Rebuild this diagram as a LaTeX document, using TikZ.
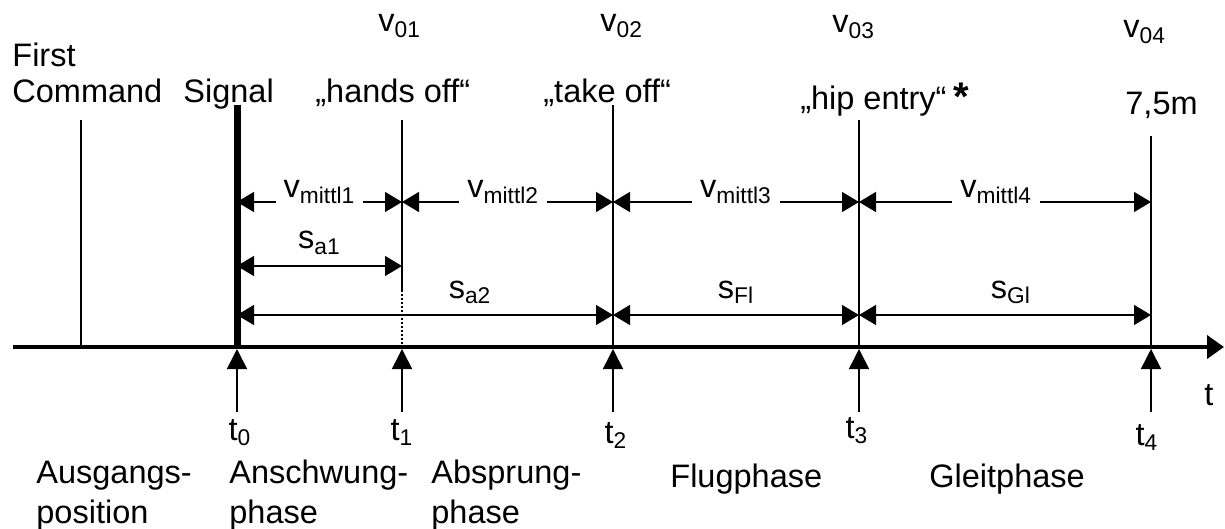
\documentclass[tikz,border=0pt]{standalone}
\usepackage{fontspec}
\setmainfont{Liberation Sans}
\usetikzlibrary{arrows.meta,positioning}

\begin{document}
\begin{tikzpicture}[
  x=0.5pt,y=-0.5pt,
  >={Triangle[length=8.5pt,width=10pt]},
  every node/.style={font=\fontsize{16.25}{20}\selectfont,inner sep=0pt},
  txt/.style={anchor=base west},
  tline/.style={line width=0.8pt},
  dimline/.style={<->,line width=0.7pt},
  gaplabel/.style={fill=white,inner xsep=4pt,inner ysep=1.5pt,anchor=base,yshift=2pt},
  slabel/.style={anchor=base,yshift=8.5pt},
  tickarrow/.style={->,line width=0.8pt,>={Triangle[length=10pt,width=10pt]}},
]
\useasboundingbox (0,0) rectangle (1225,529);

% ---- points of the time marks ----
\foreach \i/\x/\top in {0/237/105,1/402/120,2/613/105,3/859/120,4/1151/136}{
  \coordinate (top\i)  at (\x,\top);
  \coordinate (ax\i)   at (\x,347);
  \coordinate (tip\i)  at (\x,349);
  \coordinate (foot\i) at (\x,412);
  \coordinate (v\i)    at (\x,202);
  \coordinate (sa\i)   at (\x,266);
  \coordinate (sb\i)   at (\x,315);
}
\coordinate (cmdtop)  at (81,120);
\coordinate (cmdax)   at (81,347);
\coordinate (dot1)    at (402,290);
\coordinate (axstart) at (13,347);
\coordinate (axend)   at (1224,347);

% ---- vertical lines ----
\draw[tline] (cmdtop) -- (cmdax);
\draw[line width=3.5pt] (top0) -- (ax0);
\draw[tline] (top1) -- (dot1);
\draw[tline,dash pattern=on 1pt off 1pt] (dot1) -- (ax1);
\foreach \i in {2,3,4} \draw[tline] (top\i) -- (ax\i);

% ---- time axis ----
\draw[line width=2pt,-{Triangle[length=8.5pt,width=11.5pt]}] (axstart) -- (axend);
\node[txt] (t) at (1204,405) {t};
\foreach \i in {0,...,4} \draw[tickarrow] (foot\i) -- (tip\i);

% ---- mean velocities ----
\draw[dimline] (v0) -- node[gaplabel] (vm1) {v\textsubscript{mittl1}} (v1);
\draw[dimline] (v1) -- node[gaplabel,pos=0.48] (vm2) {v\textsubscript{mittl2}} (v2);
\draw[dimline] (v2) -- node[gaplabel] (vm3) {v\textsubscript{mittl3}} (v3);
\draw[dimline] (v3) -- node[gaplabel,pos=0.47] (vm4) {v\textsubscript{mittl4}} (v4);

% ---- distances ----
\draw[dimline] (sa0) -- node[slabel] (sa) {s\textsubscript{a1}} (sa1);
\draw[dimline] (sb0) -- node[slabel,pos=0.62] (sab) {s\textsubscript{a2}} (sb2);
\draw[dimline] (sb2) -- node[slabel] (sfl) {s\textsubscript{Fl}} (sb3);
\draw[dimline] (sb3) -- node[slabel,pos=0.52] (sgl) {s\textsubscript{Gl}} (sb4);

% ---- labels above ----
\node[txt] (first)    at (12,67)   {First};
\node[txt] (command)  at (12,103)  {Command};
\node[txt] (signal)   at (183,103) {Signal};
\node[txt] (handsoff) at (315,103) {„hands off“};
\node[txt] (takeoff)  at (543,103) {„take off“};
\node[anchor=base east] (hipentry) at (947,110) {„hip entry“};
\node[txt,font=\fontsize{20}{24}\selectfont\bfseries] (star) at (953,111) {*};
\node[txt] (dist)     at (1125,115) {7,5m};
\node[txt] (v01) at (378,32)  {v\textsubscript{01}};
\node[txt] (v02) at (600,32)  {v\textsubscript{02}};
\node[txt] (v03) at (832,33)  {v\textsubscript{03}};
\node[txt] (v04) at (1123,38) {v\textsubscript{04}};

% ---- labels below ----
\node[anchor=base] (t0) at (240,440)  {t\textsubscript{0}};
\node[anchor=base] (t1) at (402,440)  {t\textsubscript{1}};
\node[anchor=base] (t2) at (616,443)  {t\textsubscript{2}};
\node[anchor=base] (t3) at (857,438)  {t\textsubscript{3}};
\node[anchor=base] (t4) at (1147,445) {t\textsubscript{4}};

\node[txt] (ausg)  at (36,483)  {Ausgangs-};
\node[txt] (ausgb) at (36,523)  {position};
\node[txt] (ansch) at (229,483) {Anschwung-};
\node[txt] (anschb) at (229,523) {phase};
\node[txt] (absp)  at (431,483) {Absprung-};
\node[txt] (abspb) at (431,523) {phase};
\node[txt] (flug)  at (670,487) {Flugphase};
\node[txt] (gleit) at (929,487) {Gleitphase};
\end{tikzpicture}
\end{document}
